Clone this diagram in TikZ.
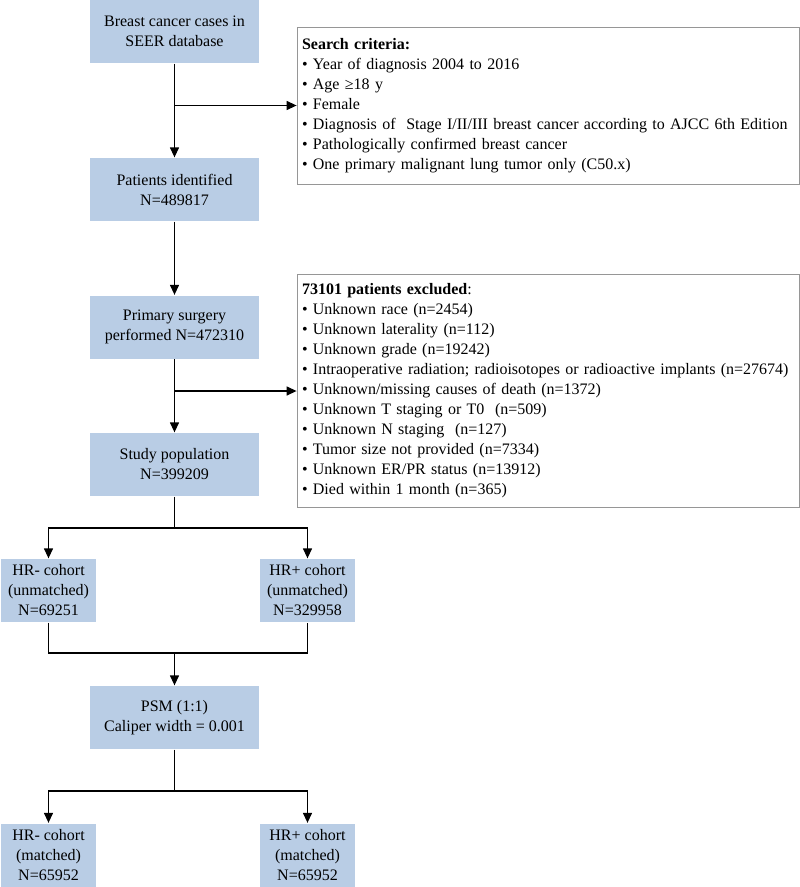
\documentclass[tikz,border=0pt]{standalone}
\usepackage{fontspec}
\setmainfont{Liberation Serif}
\usetikzlibrary{arrows.meta}
\definecolor{boxblue}{RGB}{185,205,229}
\definecolor{framegray}{RGB}{150,150,150}

\tikzset{%
		every box/.style={
			rectangle,
			fill=boxblue,
			align=center,
			inner sep=0pt,
			font=\fontsize{16}{20}\selectfont
		},
		main box/.style={
			minimum width=169pt,
			minimum height=63pt
		},
		cohort box/.style={
			minimum width=95pt,
			minimum height=63pt
		},
		list box/.style={
			rectangle,
			draw=framegray,
			line width=0.8pt,
			align=left,
			text width=492pt,
			inner xsep=5pt,
			inner ysep=0pt,
			font=\fontsize{16}{20}\selectfont
		},
	}

\begin{document}
\begin{tikzpicture}[x=1pt, y=-1pt, >={Triangle[length=10pt,width=9pt]}, line width=1.3pt]
			\useasboundingbox (0,0) rectangle (800,887);
			
			% draw boxes in main column
			\node [every box, main box] (cases) at (174.5,31.5) {Breast cancer cases in\\SEER database};
			\node [every box, main box] (ident) at (174.5,189.5) {Patients identified\\N=489817};
			\node [every box, main box] (surgery) at (174.5,327) {Primary surgery\\performed N=472310};
			\node [every box, main box] (study) at (174.5,464.5) {Study population\\N=399209};
			\node [every box, main box] (psm) at (174.5,717.5) {PSM (1:1)\\Caliper width = 0.001};
			
			% draw cohort boxes before matching
			\foreach \m/\sgn/\cnt [count=\x from 0] in {neg/-/69251, pos/+/329958}
			\node [every box, cohort box] (hr\m-u) at (48.5+\x*259,590.5) {HR\sgn\ cohort\\(unmatched)\\N=\cnt};
			
			% draw cohort boxes after matching
			\foreach \m/\sgn [count=\x from 0] in {neg/-, pos/+}
			\node [every box, cohort box] (hr\m-m) at (48.5+\x*259,855) {HR\sgn\ cohort\\(matched)\\N=65952};
			
			% draw criteria and exclusion lists
			\node [list box, minimum height=157pt] (criteria) at (548,105.5) {\textbf{Search criteria:}\\
				\textbullet\ Year of diagnosis 2004 to 2016\\
				\textbullet\ Age ≥18 y\\
				\textbullet\ Female\\
				\textbullet\ Diagnosis of~ Stage I/II/III breast cancer according to AJCC 6th Edition\\
				\textbullet\ Pathologically confirmed breast cancer\\
				\textbullet\ One primary malignant lung tumor only (C50.x)};
			\node [list box, minimum height=233pt] (excluded) at (548,390.5) {\textbf{73101 patients excluded}:\\
				\textbullet\ Unknown race (n=2454)\\
				\textbullet\ Unknown laterality (n=112)\\
				\textbullet\ Unknown grade (n=19242)\\
				\textbullet\ Intraoperative radiation; radioisotopes or radioactive implants (n=27674)\\
				\textbullet\ Unknown/missing causes of death (n=1372)\\
				\textbullet\ Unknown T staging or T0~ (n=509)\\
				\textbullet\ Unknown N staging~ (n=127)\\
				\textbullet\ Tumor size not provided (n=7334)\\
				\textbullet\ Unknown ER/PR status (n=13912)\\
				\textbullet\ Died within 1 month (n=365)};
			
			% draw arrows down the main column
			\draw [->] (cases) -- (ident);
			\draw [->] (ident) -- (surgery);
			\draw [->] (surgery) -- (study);
			
			% draw arrows to the side lists
			\coordinate (to-criteria) at (174.5,105.5);
			\coordinate (to-excluded) at (174.5,391);
			\draw [->] (to-criteria) -- (criteria.west);
			\draw [->] (to-excluded) -- (excluded.west |- to-excluded);
			
			% split study population into cohorts
			\coordinate (split-u) at (174.5,528);
			\draw (study) -- (split-u);
			\foreach \m in {neg,pos}
			\draw [->] (split-u) -| (hr\m-u);
			
			% join cohorts into matching
			\coordinate (merge) at (174.5,653);
			\draw (hrneg-u) |- (merge) -| (hrpos-u);
			\draw [->] (merge) -- (psm);
			
			% split matching into matched cohorts
			\coordinate (split-m) at (174.5,791);
			\draw (psm) -- (split-m);
			\foreach \m in {neg,pos}
			\draw [->] (split-m) -| (hr\m-m);
\end{tikzpicture}
\end{document}
